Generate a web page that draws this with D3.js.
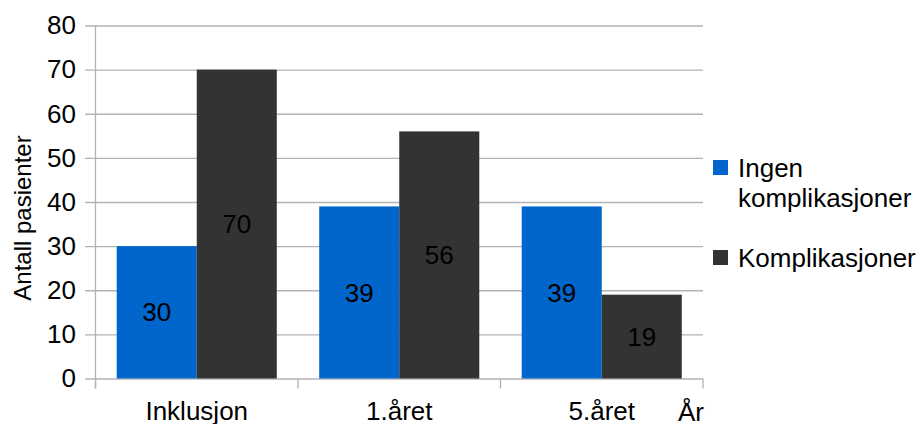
<!DOCTYPE html>
<html lang="no">
<head>
<meta charset="UTF-8">
<title>Komplikasjoner</title>
<script src="https://d3js.org/d3.v7.min.js"></script>
<style>
    body { margin: 0; background: #fff; }
    svg text { font-family: "Liberation Sans", Arial, sans-serif; fill: #000; }
    .grid line { stroke: #b3b3b3; stroke-width: 1.3px; }
</style>
</head>
<body>
<svg id="chart" width="923" height="424"></svg>
<script>
    // data
    const categories = ["Inklusjon", "1.året", "5.året"];
    const seriesNames = ["Ingen komplikasjoner", "Komplikasjoner"];
    const ingen = [30, 39, 39];
    const komplikasjoner = [70, 56, 19];
    const yTicks = [0, 10, 20, 30, 40, 50, 60, 70, 80];
    const colors = ["#0066cc", "#333333"];

    const svg = d3.select("#chart");
    const plotL = 95.5, plotR = 703, plotT = 25.5, plotB = 378.5;

    const x = d3.scaleBand().domain(categories).range([plotL, plotR]).padding(0);
    const xs = d3.scaleBand().domain(seriesNames).range([0, x.bandwidth()])
        .paddingInner(0).paddingOuter(0.265);
    const y = d3.scaleLinear().domain([0, 80]).range([plotB, plotT]);

    // gridlines + y labels (axis placed at right edge so ticks run leftwards)
    const gy = svg.append("g")
        .attr("class", "grid")
        .attr("transform", `translate(${plotR},0)`)
        .call(d3.axisLeft(y).tickValues(yTicks).tickSize(plotR - 85).tickPadding(9));
    gy.select(".domain").remove();
    gy.selectAll("text")
        .style("font-size", "26px")
        .attr("font-family", null);

    // y axis line
    svg.append("line")
        .attr("x1", plotL).attr("x2", plotL)
        .attr("y1", plotT).attr("y2", plotB + 10)
        .attr("stroke", "#b3b3b3").attr("stroke-width", 1.3);

    // boundary ticks on x axis
    const bounds = categories.map(c => x(c)).concat([plotR]);
    svg.selectAll(".xtick")
        .data(bounds)
        .join("line")
        .attr("class", "xtick")
        .attr("x1", d => d).attr("x2", d => d)
        .attr("y1", plotB).attr("y2", plotB + 10)
        .attr("stroke", "#b3b3b3").attr("stroke-width", 1.3);

    // bars
    const rows = categories.map((c, i) => ({
        cat: c,
        vals: [{ s: seriesNames[0], v: ingen[i], k: 0 }, { s: seriesNames[1], v: komplikasjoner[i], k: 1 }]
    }));

    const groups = svg.selectAll(".grp")
        .data(rows)
        .join("g")
        .attr("class", "grp")
        .attr("transform", d => `translate(${x(d.cat)},0)`);

    groups.selectAll("rect")
        .data(d => d.vals)
        .join("rect")
        .attr("x", d => xs(d.s))
        .attr("y", d => y(d.v))
        .attr("width", xs.bandwidth())
        .attr("height", d => y(0) - y(d.v))
        .attr("fill", d => colors[d.k]);

    groups.selectAll("text.val")
        .data(d => d.vals)
        .join("text")
        .attr("class", "val")
        .attr("x", d => xs(d.s) + xs.bandwidth() / 2)
        .attr("y", d => (y(d.v) + y(0)) / 2)
        .attr("dy", "0.35em")
        .attr("text-anchor", "middle")
        .style("font-size", "26px")
        .text(d => d.v);

    // x labels
    const gx = svg.append("g")
        .attr("transform", `translate(0,${plotB})`)
        .call(d3.axisBottom(x).tickSize(0));
    gx.select(".domain").remove();
    gx.selectAll("text")
        .attr("font-family", null)
        .attr("dy", null)
        .attr("y", 41)
        .style("font-size", "26px");

    // axis titles
    svg.append("text")
        .attr("transform", "translate(31,218) rotate(-90)")
        .attr("text-anchor", "middle")
        .style("font-size", "24px")
        .text("Antall pasienter");

    svg.append("text")
        .attr("x", plotR + 1)
        .attr("y", 421)
        .attr("text-anchor", "end")
        .style("font-size", "26px")
        .text("År");

    // legend
    const legendData = [
        { lines: ["Ingen", "komplikasjoner"], y: 177, k: 0 },
        { lines: ["Komplikasjoner"], y: 267, k: 1 }
    ];
    const lg = svg.selectAll(".leg")
        .data(legendData)
        .join("g")
        .attr("class", "leg");
    lg.append("rect")
        .attr("x", 713)
        .attr("y", d => d.y - 17)
        .attr("width", 15)
        .attr("height", 15)
        .attr("fill", d => colors[d.k]);
    lg.append("text")
        .attr("x", 738)
        .attr("y", d => d.y)
        .style("font-size", "26px")
        .selectAll("tspan")
        .data(d => d.lines)
        .join("tspan")
        .attr("x", 738)
        .attr("dy", (d, i) => i === 0 ? 0 : 29.5)
        .text(d => d);
</script>
</body>
</html>
